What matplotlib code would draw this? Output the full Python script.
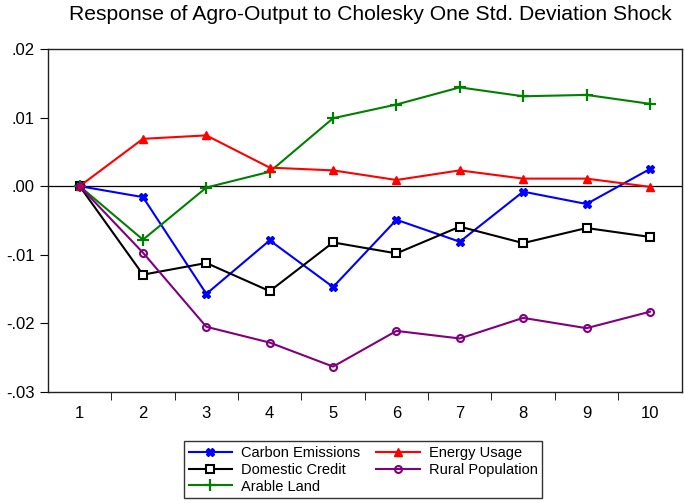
import numpy as np
import matplotlib
matplotlib.use("Agg")
import matplotlib.pyplot as plt

plt.rcParams['font.family'] = ['Liberation Sans', 'DejaVu Sans']

# Perioden
perioden = np.arange(1, 11)

# Impulsantworten
carbon = [0.0, -0.0016, -0.0157, -0.0079, -0.0147, -0.0049, -0.0081, -0.0008, -0.0026, 0.0025]
credit = [0.0, -0.0129, -0.0112, -0.0153, -0.0082, -0.0098, -0.0059, -0.0083, -0.0061, -0.0074]
arable = [0.0, -0.0078, -0.0002, 0.0021, 0.0099, 0.0119, 0.0144, 0.0131, 0.0133, 0.0120]
energy = [0.0, 0.0069, 0.0074, 0.0027, 0.0023, 0.0009, 0.0023, 0.0011, 0.0011, -0.0001]
rural = [0.0, -0.0097, -0.0205, -0.0228, -0.0263, -0.0211, -0.0222, -0.0192, -0.0207, -0.0183]

yticks = [0.02, 0.01, 0.00, -0.01, -0.02, -0.03]
ylabels = [".02", ".01", ".00", "-.01", "-.02", "-.03"]

fig = plt.figure(figsize=(6.85, 5.03), dpi=100)
ax = fig.add_axes([0.070, 0.2207, 0.925, 0.682])

ax.axhline(0, color="black", linewidth=0.9, zorder=1)

l1, = ax.plot(perioden, carbon, color="#0000FF", marker="X", markersize=5.5, linewidth=1.5, label="Carbon Emissions")
l2, = ax.plot(perioden, credit, color="black", marker="s", markersize=6, markerfacecolor="white",
              markeredgewidth=1.5, linewidth=1.5, label="Domestic Credit")
l3, = ax.plot(perioden, arable, color="#008000", marker="+", markersize=8, markeredgewidth=1.6, linewidth=1.5, label="Arable Land")
l4, = ax.plot(perioden, energy, color="#FF0000", marker="^", markersize=6, linewidth=1.5, label="Energy Usage")
l5, = ax.plot(perioden, rural, color="#800080", marker="o", markersize=5, markerfacecolor="none",
              markeredgewidth=1.5, linewidth=1.5, label="Rural Population")

ax.set_xlim(0.5, 10.5)
ax.set_ylim(-0.03, 0.02)
ax.set_xticks(perioden)
ax.set_xticklabels([str(p) for p in perioden], fontsize=12)
ax.set_xticks(np.arange(1.5, 10.5, 1.0), minor=True)
ax.tick_params(axis="x", which="major", length=0, pad=10)
ax.tick_params(axis="x", which="minor", length=6, direction="out")
ax.set_yticks(yticks)
ax.set_yticklabels(ylabels, fontsize=12)
ax.tick_params(axis="y", length=6, direction="out")

for s in ax.spines.values():
    s.set_linewidth(1.0)
    s.set_color("#202020")

fig.suptitle("Response of Agro-Output to Cholesky One Std. Deviation Shock", fontsize=15.2, x=0.54, y=0.99)

leg = fig.legend(handles=[l1, l2, l3, l4, l5], ncol=2, loc="lower center", bbox_to_anchor=(0.53, 0.01),
                 borderaxespad=0, fontsize=10.5, frameon=True, fancybox=False, edgecolor="black",
                 handlelength=3.0, labelspacing=0.2, columnspacing=1.1, borderpad=0.3, handletextpad=0.6)
leg.get_frame().set_linewidth(1.0)

plt.savefig("out.png", dpi=100)
